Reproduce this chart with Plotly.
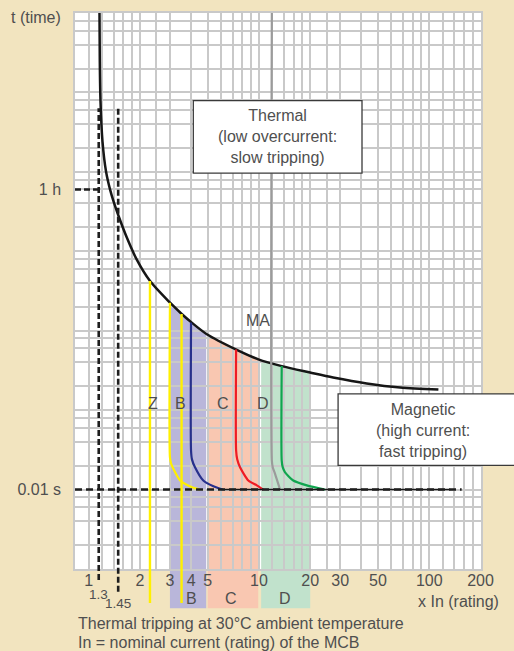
import math
import plotly.graph_objects as go

# ---------------- data ----------------
# thermal (overload) tripping curve: multiple of In vs time (schematic log units)
thermal_x = [1.157, 1.162, 1.173, 1.205, 1.264, 1.334, 1.399, 1.507, 1.672, 1.909,
             2.292, 3.004, 3.518, 4.03, 4.94, 7.41, 9.92, 13.61, 19.96, 27.25,
             42.9, 67.4, 113.2]
thermal_y = [10000, 2427, 764, 240.6, 101, 60.1, 42.5, 26.8, 15.0, 7.96,
             4.22, 2.25, 1.625, 1.264, 0.904, 0.574, 0.436, 0.3585, 0.298, 0.258,
             0.217, 0.193, 0.1824]

# magnetic tripping curves
b_low_x = [3.0, 3.0, 3.045, 3.14, 3.44, 3.94, 4.51]
b_low_y = [2.25, 0.0254, 0.0213, 0.0183, 0.0130, 0.01097, 0.0100]
b_high_x = [3.99, 3.99, 4.04, 4.21, 4.71, 5.40, 6.13]
b_high_y = [1.264, 0.031, 0.024, 0.0191, 0.0130, 0.0110, 0.0100]
c_x = [7.34, 7.34, 7.45, 7.74, 8.66, 9.71, 10.6]
c_y = [0.58, 0.031, 0.024, 0.0191, 0.0130, 0.0113, 0.0100]
ma_x = [11.9, 11.9, 12.05, 12.43, 13.3]
ma_y = [10000, 0.0232, 0.019, 0.0158, 0.0100]
d_x = [13.6, 13.6, 13.8, 14.2, 15.9, 19.1, 24.4]
d_y = [0.3585, 0.0232, 0.019, 0.0166, 0.0130, 0.0113, 0.0100]

# straight yellow lines (x, top value)
z_line = (2.29, 4.22)
b_mid_line = (3.51, 1.625)

# shaded ranges B, C, D
band_names = ["B", "C", "D"]
band_top_x = [[3.0, 3.52, 4.03, 4.9], [5.0, 6.1, 7.41, 9.9], [10.3, 13.6, 20.0]]
band_top_y = [[2.25, 1.625, 1.264, 0.915], [0.89, 0.71, 0.574, 0.437], [0.425, 0.3585, 0.298]]
band_colors = ["#b9b6da", "#f9c7b1", "#c1e2cc"]
band_label_x = [4.0, 6.86, 14.2]
curve_label_x = [2.40, 3.44, 6.18, 10.6]
curve_labels = ["Z", "B", "C", "D"]
curve_label_y = 0.1217

# reference levels
t_levels = [60, 0.01]
t_labels = ["1 h", "0.01 s"]
ref_x = [1.145, 1.49]
ref_labels = ["1.3", "1.45"]
ref_top = 630
t001_end = 155
t001_solid = [6.13, 133]

# grid / ticks
x_grid = [1, 1.2, 1.4, 1.6, 1.8, 2, 2.5, 3, 4, 5, 6, 7, 8, 9, 10, 12, 14, 16, 18, 20,
          25, 30, 40, 50, 60, 70, 80, 90, 100, 120, 140, 160, 180, 200]
x_labelled = [1, 2, 3, 4, 5, 10, 20, 30, 50, 100, 200]
y_grid = [m * 10 ** d for d in range(-3, 4) for m in (1, 2, 4, 6, 8)] + [10000]

# ---------------- styling ----------------
XR = [-0.0805, 2.304]
YR = [-3, 4]
BG = "#f2e4bf"
TXT = "#4f4f4f"
FONT = "Liberation Sans, Arial, sans-serif"
GRID = "#c9c9c9"
FS = 16

def ypaper(v):
    return (math.log10(v) - YR[0]) / (YR[1] - YR[0])

def fmt(v):
    return ("%.6f" % v).rstrip("0").rstrip(".")

fig = go.Figure()

shapes = []
# bands (below grid)
for bx, by, col in zip(band_top_x, band_top_y, band_colors):
    ymin = 10 ** YR[0]
    path = "M%s,%s" % (fmt(bx[0]), fmt(ymin))
    for xx, yy in zip(bx, by):
        path += " L%s,%s" % (fmt(xx), fmt(yy))
    path += " L%s,%s Z" % (fmt(bx[-1]), fmt(ymin))
    shapes.append(dict(type="path", path=path, xref="x", yref="y", fillcolor=col,
                       line=dict(width=0), layer="below"))
    shapes.append(dict(type="rect", xref="x", yref="paper", x0=bx[0], x1=bx[-1],
                       y0=-0.0704, y1=0, fillcolor=col, line=dict(width=0), layer="below"))

# thermal curve
fig.add_trace(go.Scatter(x=thermal_x, y=thermal_y, mode="lines",
                         line=dict(color="#161616", width=2.5, shape="spline", smoothing=0.8)))

# magnetic curves
for xs, ys, col in [(ma_x, ma_y, "#9b9b9b"), (b_low_x, b_low_y, "#fff000"),
                    (b_high_x, b_high_y, "#27308c"), (c_x, c_y, "#ee1c25"),
                    (d_x, d_y, "#10a54f")]:
    fig.add_trace(go.Scatter(x=xs, y=ys, mode="lines",
                             line=dict(color=col, width=2.2, shape="spline", smoothing=0.6)))

# 0.01 s level
xmin = 10 ** XR[0]
fig.add_trace(go.Scatter(x=t001_solid, y=[t_levels[1]] * 2, mode="lines",
                         line=dict(color="#161616", width=1.6)))
fig.add_trace(go.Scatter(x=[xmin, t001_end], y=[t_levels[1]] * 2, mode="lines",
                         line=dict(color="#1e1e1e", width=2.6, dash="7px,4px")))
# 1 h level
fig.add_trace(go.Scatter(x=[xmin, ref_x[0]], y=[t_levels[0]] * 2, mode="lines",
                         line=dict(color="#1e1e1e", width=2.6, dash="6px,3px")))

# straight yellow lines extending below the axis
for xv, top in [z_line, b_mid_line]:
    shapes.append(dict(type="line", xref="x", yref="paper", x0=xv, x1=xv,
                       y0=-0.061, y1=ypaper(top), line=dict(color="#fff000", width=2.4),
                       layer="above"))
# dashed 1.3 / 1.45 lines
for xv, bot in zip(ref_x, [-0.0197, -0.0407]):
    shapes.append(dict(type="line", xref="x", yref="paper", x0=xv, x1=xv,
                       y0=bot, y1=ypaper(ref_top),
                       line=dict(color="#1e1e1e", width=2.6, dash="6px,3px"), layer="above"))

# text boxes
shapes.append(dict(type="rect", xref="paper", yref="paper", x0=0.2914, x1=0.7069,
                   y0=0.712, y1=0.8423, fillcolor="white",
                   line=dict(color="#3a3a3a", width=1.3), layer="above"))
shapes.append(dict(type="rect", xref="paper", yref="paper", x0=0.648, x1=1.09,
                   y0=0.1864, y1=0.3149, fillcolor="white",
                   line=dict(color="#3a3a3a", width=1.3), layer="above"))

ann = []
f = dict(family=FONT, size=FS, color=TXT)
ann.append(dict(xref="paper", yref="paper", x=0.499, y=0.7772, text="Thermal<br>(low overcurrent:<br>slow tripping)",
                showarrow=False, font=f, xanchor="center", yanchor="middle"))
ann.append(dict(xref="paper", yref="paper", x=0.8564, y=0.2491, text="Magnetic<br>(high current:<br>fast tripping)",
                showarrow=False, font=f, xanchor="center", yanchor="middle"))
for lx, lt in zip(curve_label_x, curve_labels):
    ann.append(dict(xref="x", yref="y", x=math.log10(lx), y=math.log10(curve_label_y), text=lt,
                    showarrow=False, font=f, xanchor="center", yanchor="middle"))
ann.append(dict(xref="x", yref="y", x=math.log10(9.92), y=math.log10(1.355), text="MA",
                showarrow=False, font=f, xanchor="center", yanchor="middle"))
for lx, lt in zip(band_label_x, band_names):
    ann.append(dict(xref="x", yref="paper", x=math.log10(lx), y=-0.0535, text=lt,
                    showarrow=False, font=f, xanchor="center", yanchor="middle"))
for lx, lt, ly in zip(ref_x, ref_labels, [-0.0465, -0.0620]):
    ann.append(dict(xref="x", yref="paper", x=math.log10(lx), y=ly, text=lt,
                    showarrow=False, font=dict(family=FONT, size=13.5, color=TXT),
                    xanchor="center", yanchor="middle"))
ann.append(dict(xref="paper", yref="paper", x=1.049, y=-0.0586, text="x In (rating)",
                showarrow=False, font=f, xanchor="right", yanchor="middle"))
ann.append(dict(xref="paper", yref="paper", x=-0.03, y=0.9928, text="t (time)",
                showarrow=False, font=f, xanchor="right", yanchor="middle"))
ann.append(dict(xref="paper", yref="paper", x=0.002, y=-0.0986,
                text="Thermal tripping at 30°C ambient temperature",
                showarrow=False, font=f, xanchor="left", yanchor="middle"))
ann.append(dict(xref="paper", yref="paper", x=0.002, y=-0.1313,
                text="In = nominal current (rating) of the MCB",
                showarrow=False, font=f, xanchor="left", yanchor="middle"))

x_text = [("%g" % v) if v in x_labelled else "" for v in x_grid]
y_text = [t_labels[t_levels.index(v)] if v in t_levels else "" for v in y_grid]

fig.update_layout(
    width=514, height=651,
    margin=dict(l=75, r=33, t=11, b=82),
    paper_bgcolor=BG, plot_bgcolor="white",
    showlegend=False, hovermode=False,
    shapes=shapes, annotations=ann,
    font=dict(family=FONT, size=FS, color=TXT),
    xaxis=dict(type="log", range=XR, tickmode="array", tickvals=x_grid, ticktext=x_text,
               showgrid=True, gridcolor=GRID, gridwidth=1.5, zeroline=False,
               showline=True, mirror=True, linecolor=GRID, linewidth=1.5,
               ticks="", ticklabelstandoff=-4, tickfont=dict(family=FONT, size=FS, color=TXT)),
    yaxis=dict(type="log", range=YR, tickmode="array", tickvals=y_grid, ticktext=y_text,
               showgrid=True, gridcolor=GRID, gridwidth=1.5, zeroline=False,
               showline=True, mirror=True, linecolor=GRID, linewidth=1.5,
               ticks="", ticklabelstandoff=9, tickfont=dict(family=FONT, size=FS, color=TXT)),
)

fig.write_html("out.html", config={"displayModeBar": False},
               post_script="document.body.style.margin='0';document.body.style.background='%s';" % BG)
